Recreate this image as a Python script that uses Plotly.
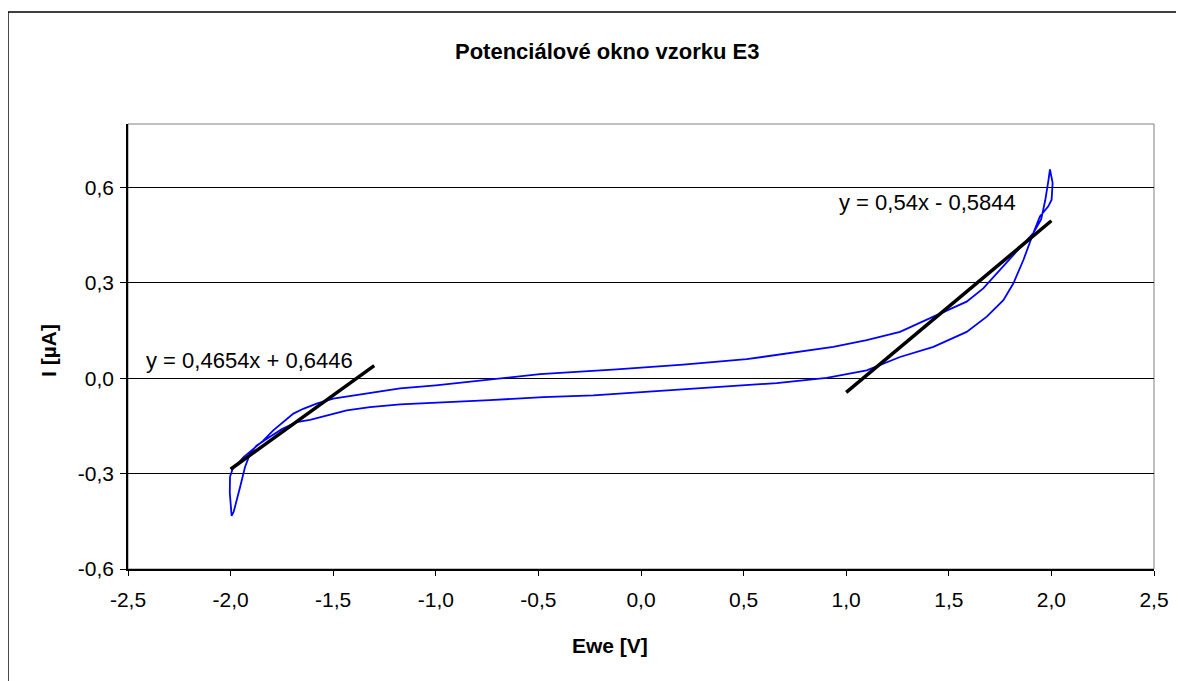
import plotly.graph_objects as go

# CV loop, forward sweep (upper branch), left -> right
fwd_x = [-2.003, -1.987, -1.960, -1.938, -1.889, -1.841, -1.792, -1.743, -1.694, -1.646,
         -1.581, -1.500, -1.402, -1.272, -1.174, -1.000, -0.728, -0.492, -0.119, 0.206,
         0.515, 0.734, 0.937, 1.100, 1.262, 1.425, 1.587, 1.668, 1.750, 1.831,
         1.912, 1.950, 1.970, 1.985, 1.993]
fwd_y = [-0.310, -0.280, -0.265, -0.249, -0.222, -0.196, -0.164, -0.138, -0.111, -0.096,
         -0.080, -0.064, -0.054, -0.043, -0.032, -0.022, -0.004, 0.013, 0.028, 0.043,
         0.060, 0.080, 0.099, 0.120, 0.146, 0.194, 0.241, 0.283, 0.341, 0.399,
         0.457, 0.500, 0.560, 0.620, 0.657]

# return sweep (lower branch), right -> left
rev_x = [2.006, 2.001, 1.985, 1.944, 1.912, 1.864, 1.815, 1.766, 1.685, 1.587,
         1.425, 1.262, 1.100, 1.002, 0.905, 0.661, 0.393, 0.109, -0.232, -0.476,
         -0.736, -1.174, -1.321, -1.434, -1.532, -1.613, -1.678, -1.750, -1.810, -1.874,
         -1.906, -1.930, -1.954, -1.970, -1.985, -1.995, -2.000, -2.004, -2.003, -2.003]
rev_y = [0.615, 0.562, 0.541, 0.509, 0.457, 0.373, 0.299, 0.246, 0.194, 0.146,
         0.099, 0.067, 0.025, 0.012, 0.001, -0.015, -0.027, -0.041, -0.054, -0.059,
         -0.069, -0.082, -0.091, -0.101, -0.117, -0.131, -0.138, -0.160, -0.185, -0.212,
         -0.238, -0.280, -0.343, -0.385, -0.420, -0.433, -0.400, -0.360, -0.320, -0.310]

# linear trendlines (endpoints)
trend_left_x = [-2.0, -1.3]
trend_left_y = [-0.2862, 0.0396]
trend_right_x = [1.0, 2.0]
trend_right_y = [-0.0444, 0.4956]

x_tickvals = [-2.5, -2.0, -1.5, -1.0, -0.5, 0.0, 0.5, 1.0, 1.5, 2.0, 2.5]
x_ticktext = ["-2,5", "-2,0", "-1,5", "-1,0", "-0,5", "0,0", "0,5", "1,0", "1,5", "2,0", "2,5"]
y_tickvals = [-0.6, -0.3, 0.0, 0.3, 0.6]
y_ticktext = ["-0,6", "-0,3", "0,0", "0,3", "0,6"]

FONT = "Arial, Liberation Sans, sans-serif"

fig = go.Figure()
fig.add_trace(go.Scatter(
    x=fwd_x + rev_x, y=fwd_y + rev_y, mode="lines",
    line=dict(color="#0000FF", width=1.8), showlegend=False,
))
fig.add_trace(go.Scatter(
    x=trend_left_x, y=trend_left_y, mode="lines",
    line=dict(color="black", width=3.5), showlegend=False,
))
fig.add_trace(go.Scatter(
    x=trend_right_x, y=trend_right_y, mode="lines",
    line=dict(color="black", width=3.5), showlegend=False,
))

fig.update_xaxes(
    range=[-2.5, 2.5], tickvals=x_tickvals, ticktext=x_ticktext,
    showgrid=False, zeroline=False, showline=True, linecolor="black", linewidth=1.5,
    ticks="outside", ticklen=5, tickcolor="black", ticklabelstandoff=6,
    tickfont=dict(family=FONT, size=21, color="black"),
)
fig.update_yaxes(
    range=[-0.6, 0.8], tickvals=y_tickvals, ticktext=y_ticktext,
    showgrid=True, gridcolor="black", gridwidth=1, zeroline=False,
    showline=True, linecolor="black", linewidth=1.5,
    ticks="outside", ticklen=6, tickcolor="black", ticklabelstandoff=2,
    tickfont=dict(family=FONT, size=21, color="black"),
)

fig.update_layout(
    width=1184, height=681,
    margin=dict(l=120, r=38, t=116, b=120),
    plot_bgcolor="white", paper_bgcolor="white",
    font=dict(family=FONT, color="black"),
    shapes=[
        # outer chart border
        dict(type="rect", xref="paper", yref="paper", x0=-0.117, x1=1.3, y0=-0.5, y1=1.2517,
             line=dict(color="black", width=1.5), layer="below"),
        # plot area border
        dict(type="rect", xref="paper", yref="paper", x0=0, x1=1, y0=0, y1=1,
             line=dict(color="#808080", width=1), layer="below"),
    ],
    annotations=[
        dict(text="<b>Potenciálové okno vzorku E3</b>", xref="paper", yref="paper",
             x=0.467, y=1.164, xanchor="center", yanchor="middle", showarrow=False,
             font=dict(size=22, family=FONT)),
        dict(text="<b>Ewe [V]</b>", xref="paper", yref="paper",
             x=0.47, y=-0.171, xanchor="center", yanchor="middle", showarrow=False,
             font=dict(size=21, family=FONT)),
        dict(text="<b>I [µA]</b>", xref="paper", yref="paper", textangle=-90,
             x=-0.078, y=0.492, xanchor="center", yanchor="middle", showarrow=False,
             font=dict(size=21, family=FONT)),
        dict(text="y = 0,4654x + 0,6446", x=-1.91, y=0.057, xref="x", yref="y",
             xanchor="center", yanchor="middle", showarrow=False,
             font=dict(size=22, family=FONT)),
        dict(text="y = 0,54x - 0,5844", x=1.396, y=0.553, xref="x", yref="y",
             xanchor="center", yanchor="middle", showarrow=False,
             font=dict(size=22, family=FONT)),
    ],
)

fig.write_html("out.html")
